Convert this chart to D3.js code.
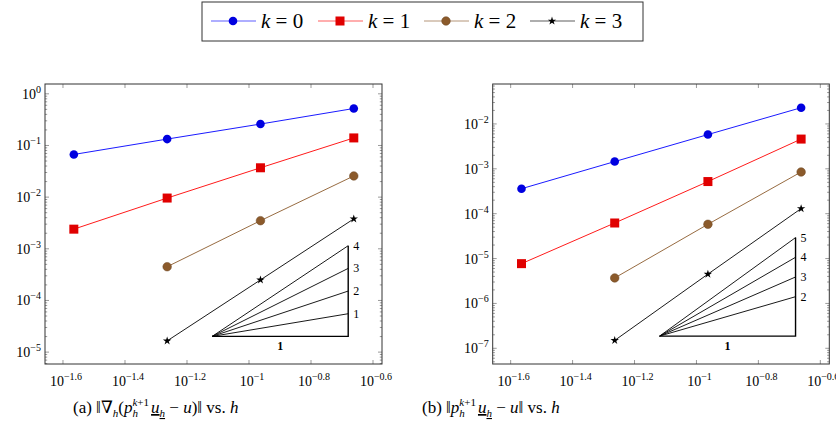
<!DOCTYPE html>
<html><head><meta charset="utf-8">
<script src="https://cdn.jsdelivr.net/npm/d3@7"></script>
<style>body{margin:0;background:#fff}
svg text{font-family:"Liberation Serif","Times New Roman",Times,"DejaVu Serif","Noto Serif",serif}</style>
</head><body>
<svg id="c" width="836" height="440"></svg>
<script>
const hLog = [-1.565, -1.264, -0.963, -0.662];
const xTicks = [-1.6, -1.4, -1.2, -1, -0.8, -0.6];
const xTickLabels = ["−1.6", "−1.4", "−1.2", "−1", "−0.8", "−0.6"];

// (a) gradient error
const gradK0 = [0.067, 0.133, 0.26, 0.52];
const gradK1 = [0.0024, 0.0096, 0.037, 0.14];
const gradK2 = [null, 0.00045, 0.0035, 0.0257];
const gradK3 = [null, 1.65e-5, 2.5e-4, 3.8e-3];
const gradSlopes = [1, 2, 3, 4];

// (b) L2 error
const l2K0 = [3.6e-4, 1.45e-3, 5.8e-3, 2.3e-2];
const l2K1 = [7.7e-6, 6.2e-5, 5.2e-4, 4.6e-3];
const l2K2 = [null, 3.7e-6, 5.8e-5, 8.5e-4];
const l2K3 = [null, 1.5e-7, 4.5e-6, 1.3e-4];
const l2Slopes = [2, 3, 4, 5];

const seriesNames = ["0", "1", "2", "3"];
const colors = ["#0000ff", "#ff0000", "#8b5a2b", "#000000"];

const svg = d3.select("#c");

function marker(g, k, x, y) {
  if (k === 0) g.append("circle").attr("cx", x).attr("cy", y).attr("r", 4.3).attr("fill", "#0000e0");
  else if (k === 1) g.append("rect").attr("x", x - 4.5).attr("y", y - 4.5).attr("width", 9).attr("height", 9).attr("fill", "#e00000");
  else if (k === 2) g.append("circle").attr("cx", x).attr("cy", y).attr("r", 4.3).attr("fill", "#8b5a2b").attr("stroke", "#6b4420").attr("stroke-width", 0.5);
  else g.append("path").attr("d", d3.symbol(d3.symbolStar, 22)()).attr("transform", `translate(${x},${y})`).attr("fill", "#000");
}

function sup(t, base, exp) {
  t.append("tspan").text(base);
  t.append("tspan").attr("dy", -6).attr("font-size", 10).text(exp);
}

// p_h^{k+1} u_h - u
function projTerm(c) {
  c.append("tspan").attr("font-style", "italic").text("p");
  c.append("tspan").attr("font-style", "italic").attr("font-size", 11).attr("dy", 4).text("h");
  c.append("tspan").attr("font-style", "italic").attr("font-size", 11).attr("dx", -5.5).attr("dy", -11).text("k");
  c.append("tspan").attr("font-size", 11).text("+1");
  c.append("tspan").attr("font-style", "italic").attr("dx", 2).attr("dy", 7).attr("text-decoration", "underline").text("u");
  c.append("tspan").attr("font-style", "italic").attr("font-size", 11).attr("dy", 4).attr("text-decoration", "underline").text("h");
  c.append("tspan").attr("dy", -4).text(" − ");
  c.append("tspan").attr("font-style", "italic").text("u");
}

function plot(o) {
  const g = svg.append("g");
  const x = d3.scaleLinear().domain(o.xDom).range([o.left, o.right]);
  const y = d3.scaleLog().domain(o.yDom).range([o.bottom, o.top]);
  const [x0, x1] = x.range(), [y0, y1] = y.range();
  const e0 = Math.floor(Math.log10(o.yDom[0])), e1 = Math.ceil(Math.log10(o.yDom[1]));
  for (let e = e0; e <= e1; e++) {
    for (let m = 1; m < 10; m++) {
      const v = m * Math.pow(10, e);
      if (v < o.yDom[0] || v > o.yDom[1]) continue;
      const len = m === 1 ? 4 : 2.2;
      g.append("line").attr("x1", x0).attr("x2", x0 + len).attr("y1", y(v)).attr("y2", y(v)).attr("stroke", "#555").attr("stroke-width", 0.6);
      g.append("line").attr("x1", x1).attr("x2", x1 - len).attr("y1", y(v)).attr("y2", y(v)).attr("stroke", "#555").attr("stroke-width", 0.6);
      if (m === 1) {
        const t = g.append("text").attr("x", x0 - 4).attr("y", y(v) + 5).attr("text-anchor", "end").attr("font-size", 14);
        sup(t, "10", e === 0 ? "0" : "−" + (-e));
      }
    }
  }
  xTicks.forEach((v, i) => {
    g.append("line").attr("x1", x(v)).attr("x2", x(v)).attr("y1", y0).attr("y2", y0 - 4).attr("stroke", "#555").attr("stroke-width", 0.6);
    g.append("line").attr("x1", x(v)).attr("x2", x(v)).attr("y1", y1).attr("y2", y1 + 4).attr("stroke", "#555").attr("stroke-width", 0.6);
    const t = g.append("text").attr("x", x(v) + 3).attr("y", y0 + 22).attr("text-anchor", "middle").attr("font-size", 14);
    sup(t, "10", xTickLabels[i]);
  });
  g.append("rect").attr("x", x0).attr("y", y1).attr("width", x1 - x0).attr("height", y0 - y1).attr("fill", "none").attr("stroke", "#333").attr("stroke-width", 1);

  // slope triangles
  const tx0 = -1.119, tx1 = -0.68, ty = o.triY;
  const pb = [x(tx0), y(Math.pow(10, ty))];
  const pr = x(tx1);
  const maxS = d3.max(o.slopes);
  const top = y(Math.pow(10, ty + maxS * (tx1 - tx0)));
  g.append("path").attr("d", `M${pb[0]},${pb[1]}H${pr}V${top}`).attr("fill", "none").attr("stroke", "#000").attr("stroke-width", 1.4);
  o.slopes.forEach(s => {
    const yy = y(Math.pow(10, ty + s * (tx1 - tx0)));
    g.append("line").attr("x1", pb[0]).attr("y1", pb[1]).attr("x2", pr).attr("y2", yy).attr("stroke", "#000").attr("stroke-width", 0.9);
    g.append("text").attr("x", pr + 5).attr("y", yy + 4).attr("font-size", 12).text(s);
  });
  g.append("text").attr("x", (pb[0] + pr) / 2).attr("y", pb[1] + 14).attr("text-anchor", "middle").attr("font-size", 12).attr("font-weight", "bold").text("1");

  o.series.forEach((vals, k) => {
    const pts = hLog.map((h, i) => [h, vals[i]]).filter(p => p[1] != null);
    g.append("path").attr("d", d3.line().x(p => x(p[0])).y(p => y(p[1]))(pts)).attr("fill", "none").attr("stroke", colors[k]).attr("stroke-width", 0.9);
    pts.forEach(p => marker(g, k, x(p[0]), y(p[1])));
  });

  const c = svg.append("text").attr("x", o.capX).attr("y", 413).attr("font-size", 17);
  o.caption(c);
}

plot({ xDom: [-1.658, -0.571], yDom: [Math.pow(10, -5.23), Math.pow(10, 0.19)], left: 45, right: 382, top: 84, bottom: 364,
  series: [gradK0, gradK1, gradK2, gradK3], slopes: gradSlopes, triY: -4.696, capX: 73,
  caption: c => {
    c.append("tspan").text("(a) ‖∇");
    c.append("tspan").attr("font-style", "italic").attr("font-size", 11).attr("dy", 4).text("h");
    c.append("tspan").attr("dy", -4).text("(");
    projTerm(c);
    c.append("tspan").text(")‖ vs. ");
    c.append("tspan").attr("font-style", "italic").text("h");
  } });

plot({ xDom: [-1.658, -0.571], yDom: [Math.pow(10, -7.35), Math.pow(10, -1.11)], left: 492.7, right: 829.3, top: 84, bottom: 364,
  series: [l2K0, l2K1, l2K2, l2K3], slopes: l2Slopes, triY: -6.728, capX: 422,
  caption: c => {
    c.append("tspan").text("(b) ‖");
    projTerm(c);
    c.append("tspan").text("‖ vs. ");
    c.append("tspan").attr("font-style", "italic").text("h");
  } });

// legend
const lg = svg.append("g");
lg.append("rect").attr("x", 202).attr("y", 2).attr("width", 441).attr("height", 39).attr("fill", "#fff").attr("stroke", "#333").attr("stroke-width", 1);
const legX = [211, 318, 424, 530];
seriesNames.forEach((n, k) => {
  const lx = legX[k];
  lg.append("line").attr("x1", lx).attr("x2", lx + 45).attr("y1", 21).attr("y2", 21).attr("stroke", colors[k]).attr("stroke-width", 0.9).attr("opacity", 0.7);
  marker(lg, k, lx + 22, 21);
  const t = lg.append("text").attr("x", lx + 50).attr("y", 28).attr("font-size", 21);
  t.append("tspan").attr("font-style", "italic").text("k");
  t.append("tspan").text(" = " + n);
});
</script>
</body></html>
